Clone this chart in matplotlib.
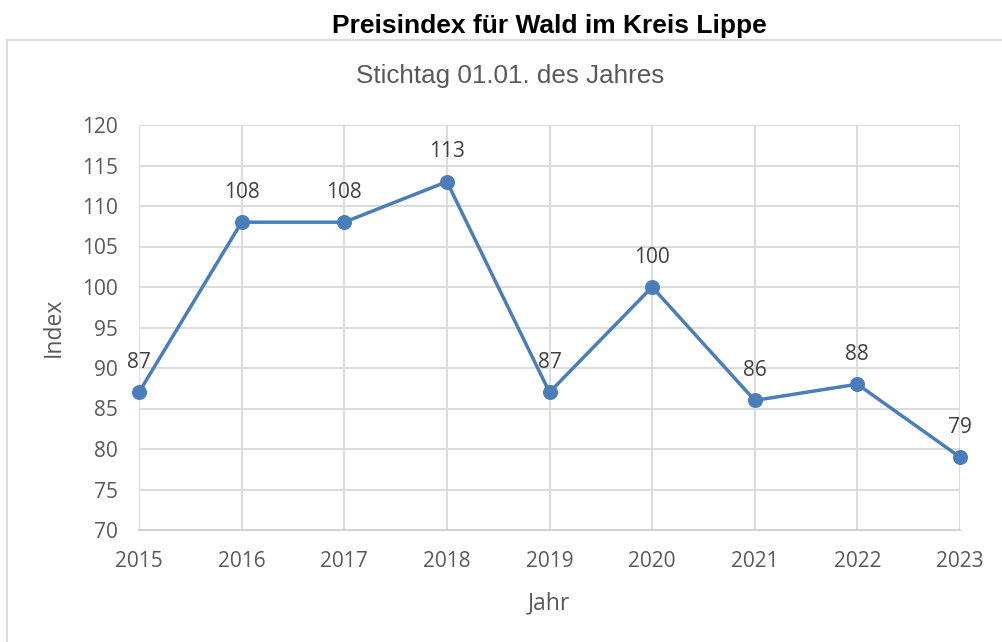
import matplotlib
matplotlib.use("Agg")
import matplotlib.pyplot as plt
from matplotlib.patches import Rectangle

years = [2015, 2016, 2017, 2018, 2019, 2020, 2021, 2022, 2023]
index_values = [87, 108, 108, 113, 87, 100, 86, 88, 79]
yticks = [70, 75, 80, 85, 90, 95, 100, 105, 110, 115, 120]

W, H = 1003, 642
fig = plt.figure(figsize=(W / 100, H / 100), dpi=100)
fig.patch.set_facecolor("white")

def fx(px):
    return px / W

def fy(py):
    return 1 - py / H

# chart border
fig.add_artist(Rectangle((fx(7), fy(700)), fx(1010) - fx(7), fy(40) - fy(700),
                         transform=fig.transFigure, fill=False,
                         edgecolor="#d9d9d9", linewidth=1.3, zorder=0))

fig.text(fx(549), fy(26), "Preisindex für Wald im Kreis Lippe",
         ha="center", va="center", fontsize=19, fontweight="bold",
         family=["Liberation Sans", "DejaVu Sans"], color="black")
fig.text(fx(510), fy(76), "Stichtag 01.01. des Jahres",
         ha="center", va="center", fontsize=18.7,
         family=["Liberation Sans", "DejaVu Sans"], color="#595959")

ax = fig.add_axes([fx(139), fy(530), fx(960) - fx(139), fy(125) - fy(530)])
ax.set_xlim(years[0], years[-1])
ax.set_ylim(yticks[0], yticks[-1])
ax.set_xticks(years)
ax.set_yticks(yticks)
ax.grid(True, color="#d9d9d9", linewidth=1.3, zorder=0)
for s in ["top", "right", "left"]:
    ax.spines[s].set_visible(False)
ax.spines["bottom"].set_color("#d0d0d0")
ax.spines["bottom"].set_linewidth(1.3)
ax.tick_params(length=0, labelsize=15, labelcolor="#595959")
ax.tick_params(axis="x", pad=15)
ax.tick_params(axis="y", pad=15)
for lab in ax.get_xticklabels() + ax.get_yticklabels():
    lab.set_family(["Open Sans", "DejaVu Sans"])

ax.plot(years, index_values, color="#4a7ebb", linewidth=2.5, marker="o",
        markersize=9.8, zorder=3, clip_on=False)
for x, y in zip(years, index_values):
    ax.annotate(str(y), (x, y), xytext=(0, 14), textcoords="offset points",
                ha="center", va="bottom", fontsize=15, color="#404040",
                family=["Open Sans", "DejaVu Sans"])

ax.set_xlabel("Jahr", fontsize=16.5, color="#595959", family=["Open Sans", "DejaVu Sans"], labelpad=14)
ax.set_ylabel("Index", fontsize=16.5, color="#595959", family=["Open Sans", "DejaVu Sans"], labelpad=12)

fig.savefig("out.png", dpi=100)
